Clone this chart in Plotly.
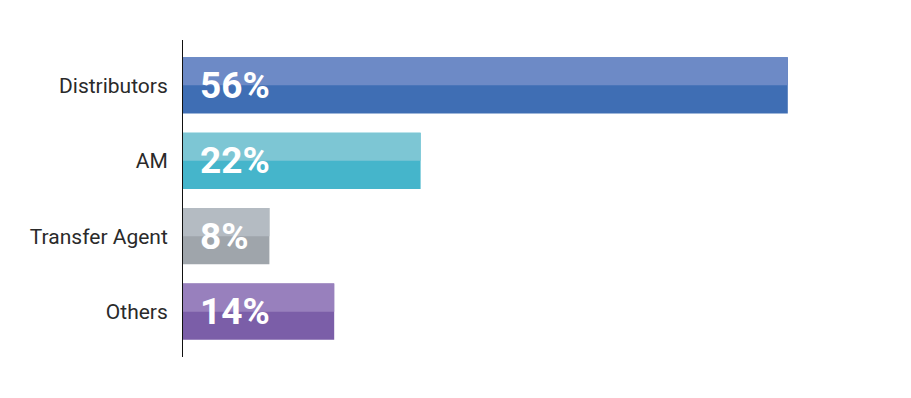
import plotly.graph_objects as go

categories = ["Distributors", "AM", "Transfer Agent", "Others"]
values = [56, 22, 8, 14]
labels = ["56%", "22%", "8%", "14%"]
dark_colors = ["#3f6eb4", "#45b5cb", "#9fa5ab", "#7b5ea8"]
light_colors = ["#6d8ac6", "#7dc6d4", "#b4bbc2", "#9880bd"]

BW = 0.745

fig = go.Figure()
fig.add_trace(go.Bar(
    y=categories, x=values, orientation="h",
    marker=dict(color=dark_colors, line=dict(width=0)),
    width=BW, hoverinfo="skip", showlegend=False,
))
fig.add_trace(go.Bar(
    y=categories, x=values, orientation="h",
    marker=dict(color=light_colors, line=dict(width=0)),
    width=BW / 2, offset=-BW / 2, hoverinfo="skip", showlegend=False,
))

for c, t in zip(categories, labels):
    fig.add_annotation(
        x=0, y=c, text="<b>" + t + "</b>", showarrow=False,
        xanchor="left", yanchor="middle", xshift=15, yshift=0,
        font=dict(family="Roboto, sans-serif", size=37, color="white"),
    )

fig.update_layout(
    width=911, height=398,
    margin=dict(l=183, r=26, t=40, b=41),
    paper_bgcolor="white", plot_bgcolor="white",
    barmode="overlay",
    xaxis=dict(range=[0, 65], visible=False, showgrid=False, zeroline=False),
    yaxis=dict(
        type="category", categoryorder="array", categoryarray=categories,
        range=[3.6, -0.6], showgrid=False, zeroline=False,
        showline=True, linecolor="#111111", linewidth=1,
        ticks="", ticklabelstandoff=10,
        tickfont=dict(family="Roboto, sans-serif", size=21, color="#2a2a2a"),
    ),
)

fig.write_html("out.html")
